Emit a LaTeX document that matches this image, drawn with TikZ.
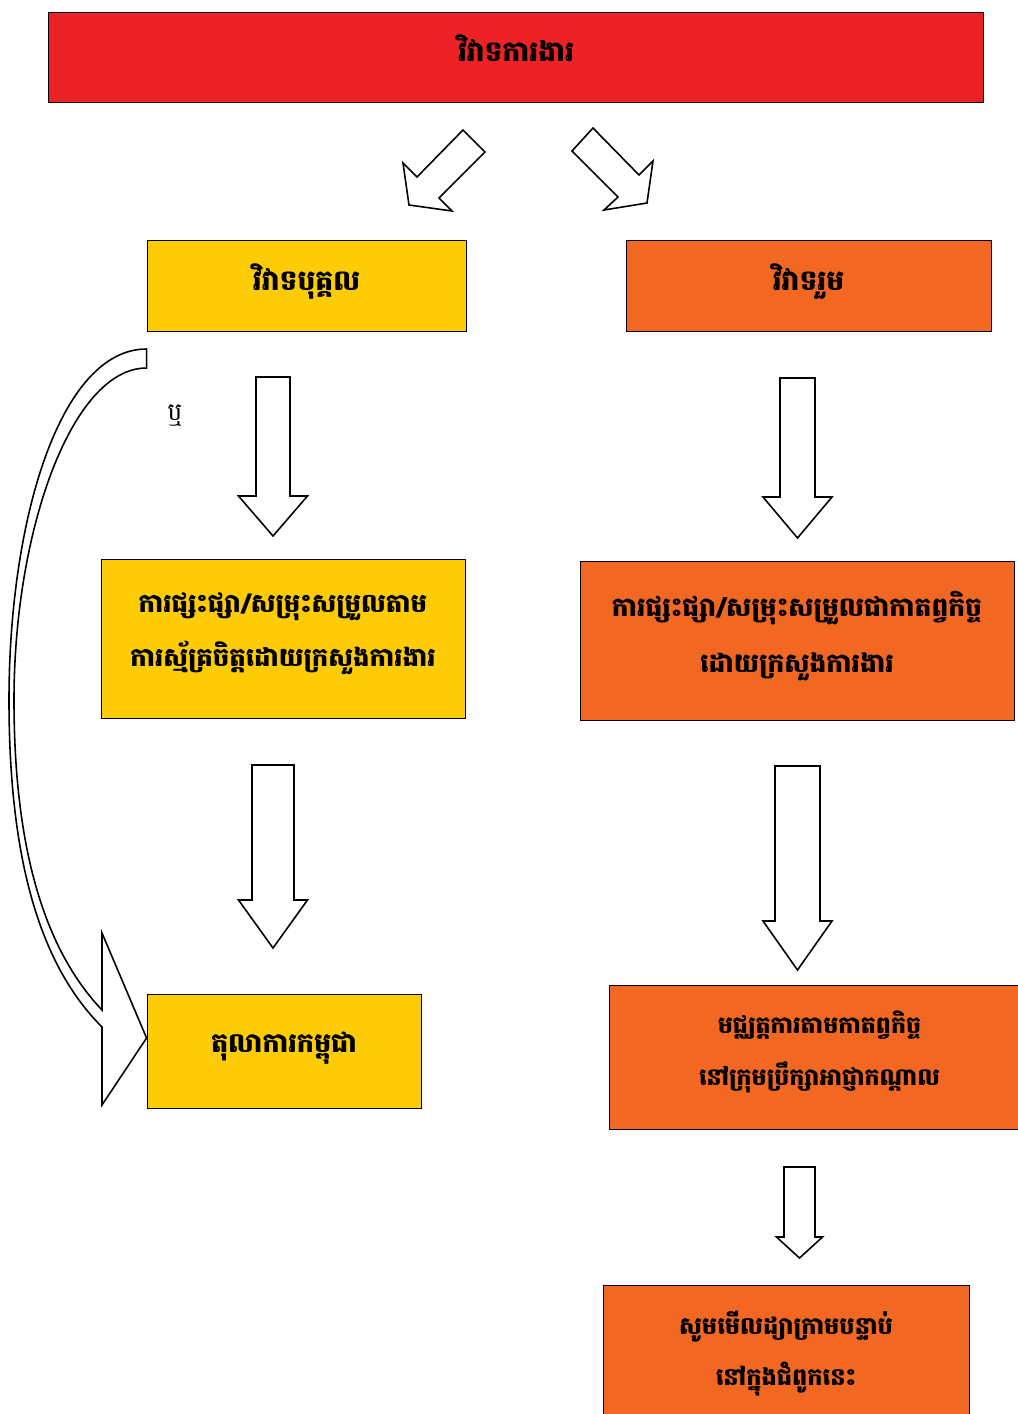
\documentclass[tikz,border=0pt]{standalone}
\usepackage{fontspec}
\newfontfamily\khmerfont[Script=Khmer]{Battambang}
\usetikzlibrary{
calc,
positioning
}
\tikzset{>=latex}
\definecolor{disputered}{RGB}{237,34,39}
\definecolor{indivyellow}{RGB}{254,204,7}
\definecolor{collorange}{RGB}{242,104,35}
% down block arrow: centre x, top y, head y, tip y, half shaft, half head
\newcommand{\downblock}[6]{%
  \draw[blockarrow] ({#1-#5},#2) -- ({#1+#5},#2) -- ({#1+#5},#3) -- ({#1+#6},#3)
    -- (#1,#4) -- ({#1-#6},#3) -- ({#1-#5},#3) -- cycle;}

\begin{document}
\begin{tikzpicture}[x=0.02cm, y=-0.02cm,
  box/.style n args={2}{draw, line width=0.5pt, inner sep=0, align=center,
    font=\khmerfont\bfseries\fontsize{#1}{#2}\selectfont,
    execute at end node={\rule[-10pt]{0pt}{10pt}}},
  blockarrow/.style={draw, fill=white, line width=0.9pt, line join=miter}]
		\useasboundingbox (0,0) rectangle (1018,1414);
		\clip (0,0) rectangle (1018,1414);

		\node[box={16}{31}, fill=disputered, minimum width=18.72cm, minimum height=1.8cm] (dispute) at (516,57) {វិវាទការងារ};
		\node[box={16}{31}, fill=indivyellow, minimum width=6.38cm, minimum height=1.82cm] (indiv) at (306.5,285.5) {វិវាទបុគ្គល};
		\node[box={16}{31}, fill=collorange, minimum width=7.3cm, minimum height=1.82cm] (coll) at (808.5,285.5) {វិវាទរួម};

		\node[box={14.8}{31}, fill=indivyellow, minimum width=7.28cm, minimum height=3.18cm] (volconc) at (283,638.5) {ការផ្សះផ្សា/សម្រុះសម្រួលតាម\\ការស្ម័គ្រចិត្តដោយក្រសួងការងារ};
		\node[box={15.1}{32}, fill=collorange, minimum width=8.68cm, minimum height=3.18cm] (compconc) at (797,640.5) {ការផ្សះផ្សា/សម្រុះសម្រួលជាកាតព្វកិច្ច\\ដោយក្រសួងការងារ};

		\node[box={15.4}{31}, fill=indivyellow, minimum width=5.48cm, minimum height=2.28cm] (court) at (284,1051) {តុលាការកម្ពុជា};
		\node[box={13.5}{30}, fill=collorange, minimum width=8.42cm, minimum height=2.88cm] (arbit) at (819.5,1057) {មជ្ឈត្តការតាមកាតព្វកិច្ច\\នៅក្រុមប្រឹក្សាអាជ្ញាកណ្ដាល};

		\node[box={13.7}{29}, fill=collorange, minimum width=7.32cm, minimum height=2.88cm] (nextdiag) at (786,1357) {សូមមើលដ្យាក្រាមបន្ទាប់\\នៅក្នុងជំពូកនេះ};

		% split arrows under the title
		\draw[blockarrow] (463,130) -- (485,152) -- (439,198) -- (452,211) -- (409,205) -- (403,163) -- (417,177) -- cycle;
		\draw[blockarrow] (593,128) -- (572,151) -- (618,197) -- (604,210) -- (647,203) -- (653,161) -- (639,175) -- cycle;

		% downward arrows
		\downblock{273}{377}{496}{536}{17}{34.5}
		\downblock{797.5}{378}{497}{538}{17.5}{34.5}
		\downblock{273}{765}{900}{948}{21}{34.5}
		\downblock{797.5}{766}{921}{970}{22.5}{34.5}
		\downblock{799.5}{1167}{1237}{1258}{15.5}{23}

		% curved arrow straight to the court
		\draw[blockarrow] (indiv.south west |- 0,349) .. controls (60,349) and (9,520) .. (9,700)
			.. controls (9,860) and (40,965) .. (102,1027) -- (102,1105) -- (court.west |- 0,1038)
			-- (102,933) -- (102,1010) .. controls (45,950) and (14,850) .. (14,700)
			.. controls (14,530) and (72,368) .. (indiv.south west |- 0,368) -- cycle;
		\node[font=\khmerfont\fontsize{14}{16}\selectfont] (orlabel) at (175,416) {ឬ};
	\end{tikzpicture}
\end{document}
